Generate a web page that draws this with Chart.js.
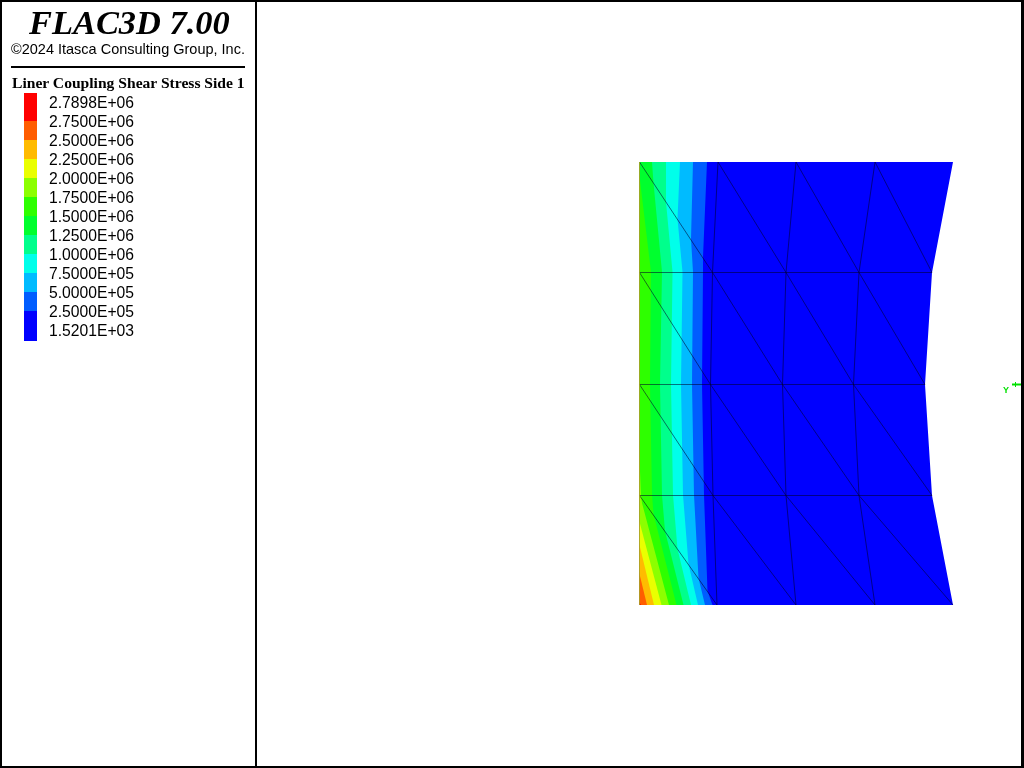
<!DOCTYPE html>
<html lang="en">

<head>
    <meta charset="UTF-8">
    <title>FLAC3D 7.00</title>
    <script src="https://cdn.jsdelivr.net/npm/chart.js"></script>
    <style>
        html, body { margin: 0; padding: 0; background: #fff; overflow: hidden; }
        #plot { position: absolute; left: 0; top: 0; }
        #frame { position: absolute; left: 0; top: 0; width: 1024px; height: 768px; box-sizing: border-box;
                 border: solid #000; border-width: 2px 3px 2px 2px; }
        #split { position: absolute; left: 255px; top: 0; width: 2px; height: 768px; background: #000; }
        #rule { position: absolute; left: 11px; top: 66px; width: 234px; height: 2px; background: #000; }
        .txt { position: absolute; white-space: nowrap; color: #000; line-height: 20px; }
        #brand { left: 29px; top: 3px; font: italic bold 34.4px/38px "Liberation Serif"; }
        #copy { left: 11px; top: 39px; font: 14.5px/20px "Liberation Sans"; }
        #title { left: 12px; top: 73px; font: bold 15.6px/20px "Liberation Serif"; }
        .lev { left: 49px; font: 15.7px/20px "Liberation Sans"; }
        #axisY { left: 1003px; top: 384px; font: bold 9px/12px "Liberation Sans"; color: #00e000; }
    </style>
</head>

<body>
    <canvas id="plot" width="1024" height="768"></canvas>
    <div id="frame"></div>
    <div id="split"></div>
    <div id="rule"></div>
    <div class="txt" id="brand">FLAC3D 7.00</div>
    <div class="txt" id="copy">©2024 Itasca Consulting Group, Inc.</div>
    <div class="txt" id="title">Liner Coupling Shear Stress Side 1</div>
    <div class="txt" id="axisY">Y</div>

<script>
// legend, top to bottom
const levelLabels = ["2.7898E+06", "2.7500E+06", "2.5000E+06", "2.2500E+06", "2.0000E+06", "1.7500E+06", "1.5000E+06",
    "1.2500E+06", "1.0000E+06", "7.5000E+05", "5.0000E+05", "2.5000E+05", "1.5201E+03"];
const bandColors = ["#ff0000", "#ff5d00", "#ffbb00", "#eaff00", "#8cff00", "#2eff00", "#00ff2e",
    "#00ff8c", "#00ffea", "#00bbff", "#005dff", "#0000ff"];
const swatchEdges = [93, 121, 140, 159, 178, 197, 216, 235, 254, 273, 292, 311, 341];

// mesh nodes
const meshRows = [162, 272.5, 384.5, 495.5, 605];
const meshCols = [
    [639.5, 718, 796, 875, 953],
    [639.5, 712.5, 786, 859, 932],
    [639.5, 710.5, 782.5, 853.5, 925],
    [639.5, 713, 786, 859, 932],
    [639.5, 717, 796, 875, 953]
];

// contour lines, [x, y] along each one, from the lowest level up
const contour250k = [[707, 162], [703, 257], [703, 272], [702, 384], [704, 495], [707.5, 591], [712.5, 605]];
const contour500k = [[693, 162], [691, 239], [693, 272], [692, 384], [694, 495], [698.5, 578], [705, 605]];
const contour750k = [[680, 162], [677.5, 219], [682.5, 272], [681, 384], [683, 495], [688.5, 564], [698, 605]];
const contour1000k = [[666, 162], [666, 202], [672.5, 272], [671, 384], [673, 495], [677.5, 549], [691, 605]];
const contour1250k = [[652, 162], [653.5, 183], [662, 272], [660, 384], [662, 495], [665, 531], [683.5, 605]];
const contour1500k = [[639, 172], [651, 272], [650, 384], [652, 495], [653.5, 514], [676.5, 605]];
const contour1750k = [[639, 448], [641, 495], [642, 503], [669, 605]];
const contour2000k = [[639, 520], [661.5, 605]];
const contour2250k = [[639, 543], [654, 605]];
const contour2500k = [[639, 572], [647, 605]];
const contour2750k = [[639, 602], [641, 605]];

const triadLine = [[1012, 384.5], [1021, 384.5]];
const triadTick = [[1015.5, 382], [1015.5, 387]];

const contours = [contour250k, contour500k, contour750k, contour1000k, contour1250k, contour1500k,
    contour1750k, contour2000k, contour2250k, contour2500k, contour2750k];

function polygon(points, color) {
    return {
        data: points.map(p => ({ x: p[0], y: p[1] })),
        showLine: true,
        fill: 'shape',
        backgroundColor: color,
        borderWidth: 0,
        pointRadius: 0,
        tension: 0
    };
}

function polyline(points, color, width) {
    return {
        data: points.map(p => ({ x: p[0], y: p[1] })),
        showLine: true,
        fill: false,
        borderColor: color,
        borderWidth: width,
        pointRadius: 0,
        tension: 0
    };
}

// painted back to front
var datasets = [];

var outline = [];
meshCols[0].forEach((x) => outline.push([x, meshRows[0]]));
meshRows.forEach((y, r) => outline.push([meshCols[r][4], y]));
meshCols[4].slice().reverse().forEach((x) => outline.push([x, meshRows[4]]));
datasets.push(polygon(outline, bandColors[11]));

// each band covers everything left of its contour, the next level paints over it
contours.forEach((line, i) => {
    var first = line[0];
    var last = line[line.length - 1];
    var shape = line.concat([[639, last[1]], [639, first[1]]]);
    datasets.push(polygon(shape, bandColors[10 - i]));
});

const meshColor = 'rgba(0, 0, 40, 0.55)';
for (let r = 0; r < meshRows.length - 1; r++) {
    for (let c = 0; c < 4; c++) {
        datasets.push(polyline([[meshCols[r][c], meshRows[r]], [meshCols[r + 1][c + 1], meshRows[r + 1]]], meshColor, 1));
        if (c > 0) {
            datasets.push(polyline([[meshCols[r][c], meshRows[r]], [meshCols[r + 1][c], meshRows[r + 1]]], meshColor, 1));
        }
    }
    if (r > 0) {
        datasets.push(polyline([[meshCols[r][0], meshRows[r]], [meshCols[r][4], meshRows[r]]], meshColor, 1));
    }
}
// the left edge shows only as a faint olive line
datasets.push(polyline([[meshCols[0][0], meshRows[0]], [meshCols[4][0], meshRows[4]]], 'rgba(170, 160, 40, 0.5)', 1));

// legend swatches
bandColors.forEach((color, i) => {
    datasets.push(polygon([[24, swatchEdges[i]], [37, swatchEdges[i]], [37, swatchEdges[i + 1]], [24, swatchEdges[i + 1]]], color));
});

datasets.push(polyline(triadLine, '#00e000', 2));
datasets.push(polyline(triadTick, '#00e000', 1));

new Chart(document.getElementById("plot"), {
    type: "scatter",
    data: { datasets: datasets.reverse() },
    options: {
        responsive: false,
        animation: false,
        events: [],
        layout: { padding: 0 },
        plugins: { legend: { display: false }, tooltip: { enabled: false } },
        scales: {
            x: { type: 'linear', min: 0, max: 1024, display: false },
            y: { type: 'linear', min: 0, max: 768, reverse: true, display: false }
        }
    }
});

levelLabels.forEach((label, i) => {
    var div = document.createElement('div');
    div.className = 'txt lev';
    div.style.top = (93 + i * 19) + 'px';
    div.textContent = label;
    document.body.appendChild(div);
});
</script>
</body>

</html>
